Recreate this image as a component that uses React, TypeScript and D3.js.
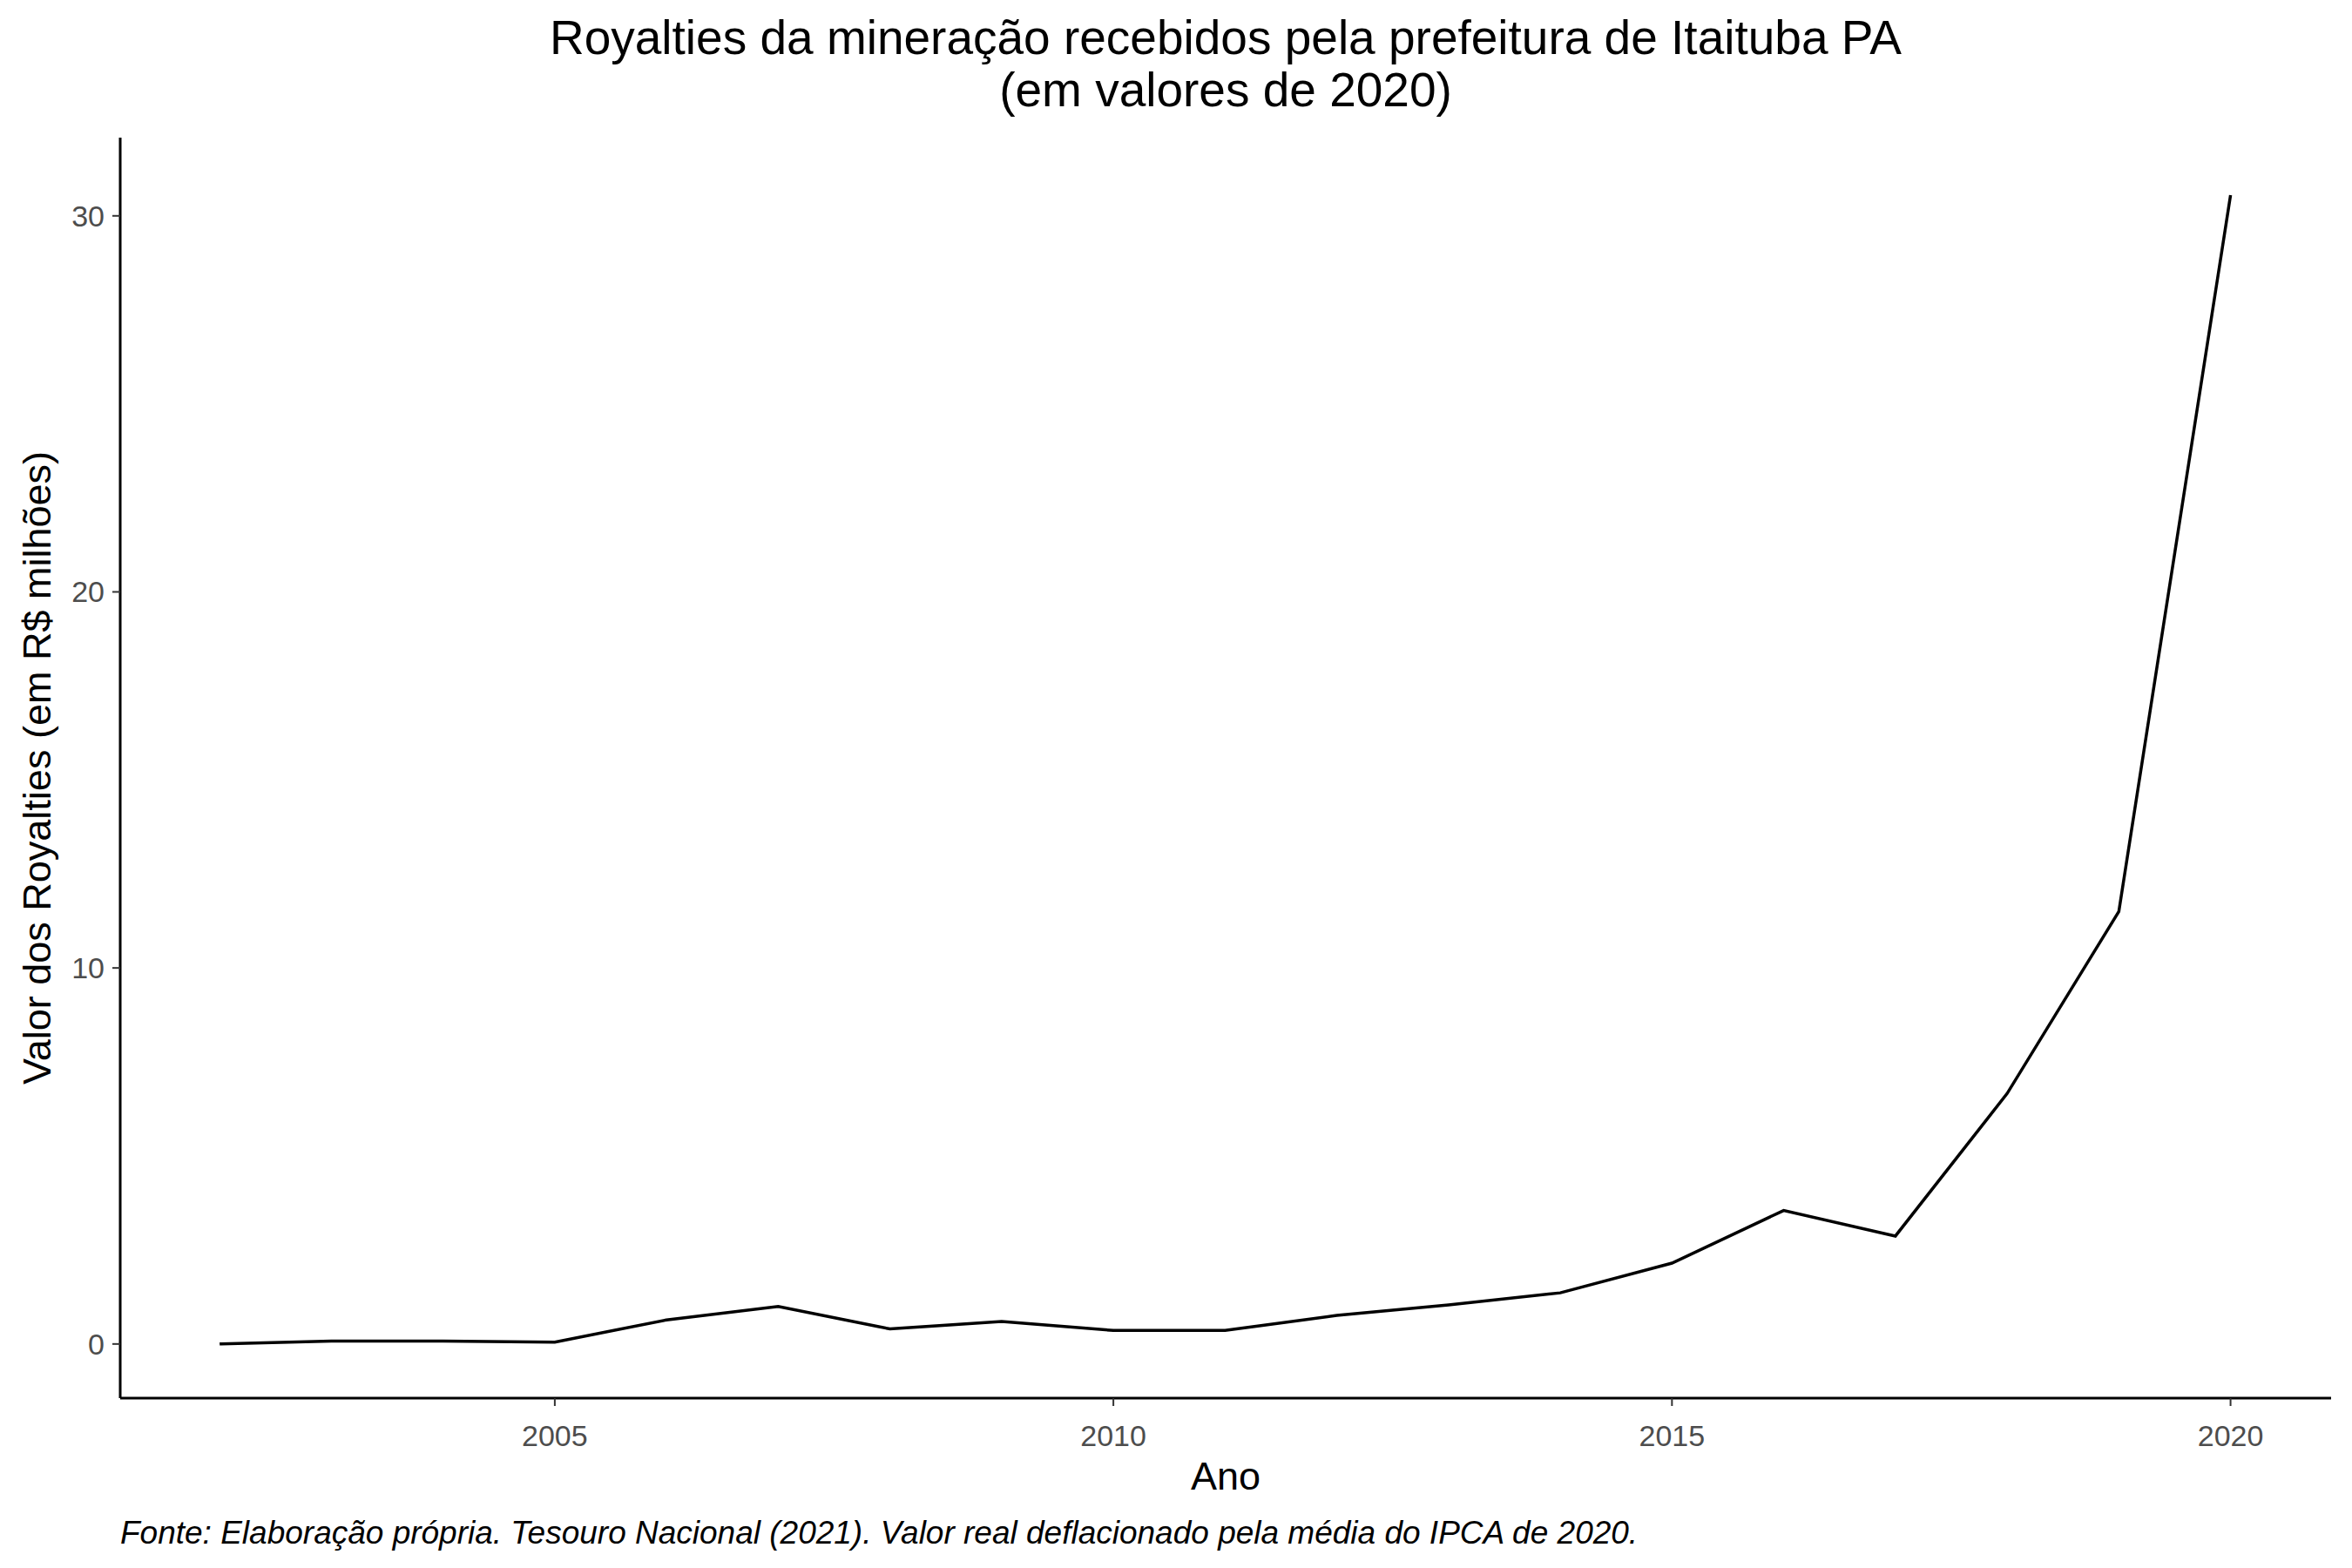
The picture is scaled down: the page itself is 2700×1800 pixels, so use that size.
import * as d3 from "d3";

const years = [2002, 2003, 2004, 2005, 2006, 2007, 2008, 2009, 2010, 2011, 2012, 2013, 2014, 2015, 2016, 2017, 2018, 2019, 2020];
const royalties = [0.0, 0.08, 0.08, 0.05, 0.64, 1.0, 0.4, 0.6, 0.36, 0.36, 0.76, 1.04, 1.36, 2.15, 3.55, 2.87, 6.66, 11.5, 30.55];
const xTicks = [2005, 2010, 2015, 2020];
const yTicks = [0, 10, 20, 30];

const W = 2700;
const H = 1800;
const left = 138;
const right = 2676;
const top = 158;
const bottom = 1605;
const font = "'Liberation Sans', Arial, sans-serif";

const App = () => {
  const x = d3.scaleLinear().domain([2001.11, 2020.9]).range([left, right]);
  const y = d3.scaleLinear().domain([-1.44, 32.08]).range([bottom, top]);
  const line = d3
    .line<number>()
    .x((_, i) => x(years[i]))
    .y((d) => y(d));

  return (
    <svg width={W} height={H} style={{ position: "absolute", left: 0, top: 0, background: "#fff" }} fontFamily={font}>
      <rect width={W} height={H} fill="#fff" />
      <text x={1407} y={62} textAnchor="middle" fontSize={55} fill="#000">
        Royalties da mineração recebidos pela prefeitura de Itaituba PA
      </text>
      <text x={1407} y={122} textAnchor="middle" fontSize={55} fill="#000">
        (em valores de 2020)
      </text>

      {/* axes */}
      <line x1={left} x2={left} y1={top} y2={bottom} stroke="#000" strokeWidth={3} />
      <line x1={left} x2={right} y1={bottom} y2={bottom} stroke="#000" strokeWidth={3} />
      {yTicks.map((t) => (
        <g key={t}>
          <line x1={left - 9} x2={left} y1={y(t)} y2={y(t)} stroke="#333" strokeWidth={2} />
          <text x={left - 18} y={y(t)} dy="0.35em" textAnchor="end" fontSize={34} fill="#4d4d4d">
            {t}
          </text>
        </g>
      ))}
      {xTicks.map((t) => (
        <g key={t}>
          <line x1={x(t)} x2={x(t)} y1={bottom} y2={bottom + 9} stroke="#333" strokeWidth={2} />
          <text x={x(t)} y={1660} textAnchor="middle" fontSize={34} fill="#4d4d4d">
            {t}
          </text>
        </g>
      ))}

      <path d={line(royalties) ?? ""} fill="none" stroke="#000" strokeWidth={3.5} />

      <text x={1407} y={1710} textAnchor="middle" fontSize={45} fill="#000">
        Ano
      </text>
      <text
        transform={`translate(58,${(top + bottom) / 2}) rotate(-90)`}
        textAnchor="middle"
        fontSize={45}
        fill="#000"
      >
        Valor dos Royalties (em R$ milhões)
      </text>
      <text x={left} y={1772} fontSize={37} fontStyle="italic" fill="#000">
        Fonte: Elaboração própria. Tesouro Nacional (2021). Valor real deflacionado pela média do IPCA de 2020.
      </text>
    </svg>
  );
};

export default App;
